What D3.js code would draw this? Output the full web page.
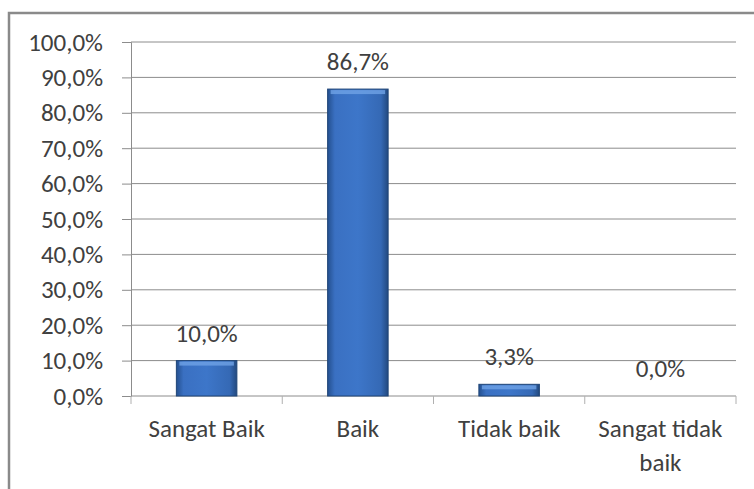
<!DOCTYPE html>
<html lang="en">
<head>
    <meta charset="UTF-8">
    <title>Penilaian</title>
    <script src="https://d3js.org/d3.v7.min.js"></script>
    <style>
        body { margin: 0; background: #fff; }
        svg { display: block; }
        text { font-family: Carlito, Lato, "Open Sans", sans-serif; fill: #404040; }
    </style>
</head>
<body>
    <div id="chart"></div>
    <script>
        const categories = ["Sangat Baik", "Baik", "Tidak baik", "Sangat tidak baik"];
        const values = [10.0, 86.7, 3.3, 0.0];
        const yTicks = [0, 10, 20, 30, 40, 50, 60, 70, 80, 90, 100];

        const fmt = v => v.toFixed(1).replace(".", ",") + "%";

        const W = 754, H = 489;
        const plot = { left: 131, right: 736, top: 42, bottom: 396 };
        const fontSize = "25px";

        const svg = d3.select("#chart").append("svg")
            .attr("width", W).attr("height", H);

        // frame
        svg.append("path")
            .attr("d", `M9,${H} V13 H${W}`)
            .attr("fill", "none")
            .attr("stroke", "#8a8a8a")
            .attr("stroke-width", 2.5);

        const defs = svg.append("defs");
        const grad = defs.append("linearGradient").attr("id", "barGrad")
            .attr("x1", "0").attr("x2", "1").attr("y1", "0").attr("y2", "0");
        grad.append("stop").attr("offset", "0%").attr("stop-color", "#24508f");
        grad.append("stop").attr("offset", "12%").attr("stop-color", "#3a70c2");
        grad.append("stop").attr("offset", "50%").attr("stop-color", "#3d76c9");
        grad.append("stop").attr("offset", "88%").attr("stop-color", "#3569b5");
        grad.append("stop").attr("offset", "100%").attr("stop-color", "#22497f");

        const x = d3.scaleBand().domain(categories).range([plot.left, plot.right]).padding(0);
        const y = d3.scaleLinear().domain([0, 100]).range([plot.bottom, plot.top]);

        // gridlines
        svg.append("g").selectAll("line")
            .data(yTicks.filter(d => d > 0))
            .join("line")
            .attr("x1", plot.left).attr("x2", plot.right)
            .attr("y1", d => y(d)).attr("y2", d => y(d))
            .attr("stroke", "#8c8c8c").attr("stroke-width", 1);

        // y axis
        const yAxis = svg.append("g")
            .attr("transform", `translate(${plot.left},0)`)
            .call(d3.axisLeft(y).tickValues(yTicks).tickFormat(fmt).tickSize(9).tickPadding(19));
        yAxis.select(".domain").attr("stroke", "#8c8c8c");
        yAxis.selectAll(".tick line").attr("stroke", "#8c8c8c");
        yAxis.selectAll(".tick text").style("font-size", fontSize).attr("fill", "#404040");

        // x axis
        const xAxis = svg.append("g")
            .attr("transform", `translate(0,${plot.bottom})`);
        xAxis.append("line")
            .attr("x1", plot.left).attr("x2", plot.right)
            .attr("stroke", "#8c8c8c");
        xAxis.selectAll(".xt")
            .data(categories.map(c => x(c)).concat([plot.right]))
            .join("line")
            .attr("class", "xt")
            .attr("x1", d => d).attr("x2", d => d)
            .attr("y1", 0).attr("y2", 8)
            .attr("stroke", "#b0b0b0");

        const xLab = xAxis.selectAll(".xl")
            .data(categories)
            .join("text")
            .attr("class", "xl")
            .attr("text-anchor", "middle")
            .style("font-size", fontSize)
            .attr("x", d => x(d) + x.bandwidth() / 2)
            .attr("y", 41);
        xLab.each(function(d) {
            const t = d3.select(this);
            const lines = d === "Sangat tidak baik" ? ["Sangat tidak", "baik"] : [d];
            lines.forEach((l, i) => {
                t.append("tspan")
                    .attr("x", x(d) + x.bandwidth() / 2)
                    .attr("dy", i === 0 ? 0 : 34)
                    .text(l);
            });
        });

        // bars
        const bw = x.bandwidth() * 0.4;
        const bars = svg.append("g").selectAll("g")
            .data(values.map((v, i) => ({ cat: categories[i], v })))
            .join("g");

        bars.filter(d => d.v > 0).append("rect")
            .attr("x", d => x(d.cat) + (x.bandwidth() - bw) / 2)
            .attr("y", d => y(d.v))
            .attr("width", bw)
            .attr("height", d => plot.bottom - y(d.v))
            .attr("fill", "url(#barGrad)")
            .attr("stroke", "#1f4577")
            .attr("stroke-width", 1);

        // top bevel highlight
        bars.filter(d => d.v > 0).append("rect")
            .attr("x", d => x(d.cat) + (x.bandwidth() - bw) / 2 + 3)
            .attr("y", d => y(d.v) + 1)
            .attr("width", bw - 6)
            .attr("height", 4)
            .attr("fill", "#6fa2e6")
            .attr("opacity", 0.8);

        // value labels
        bars.append("text")
            .attr("text-anchor", "middle")
            .style("font-size", fontSize)
            .attr("x", d => x(d.cat) + x.bandwidth() / 2)
            .attr("y", d => y(d.v) - 19)
            .text(d => fmt(d.v));
    </script>
</body>
</html>
